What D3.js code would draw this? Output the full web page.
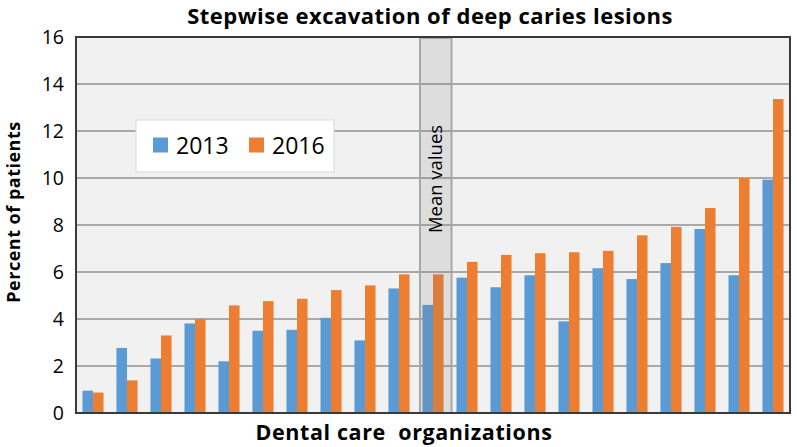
<!DOCTYPE html>
<html>
<head>
<meta charset="utf-8">
<script src="https://cdn.jsdelivr.net/npm/d3@7"></script>
<style>
  html, body { margin: 0; padding: 0; background: #ffffff; }
  svg { display: block; }
  text { font-family: "Open Sans", "Noto Sans", sans-serif; fill: #000; }
</style>
</head>
<body>
<svg id="chart" width="797" height="447"></svg>
<script>
const categories = ["O1","O2","O3","O4","O5","O6","O7","O8","O9","O10","Mean","O11","O12","O13","O14","O15","O16","O17","O18","O19","O20"];
const values2013 = [0.95, 2.77, 2.32, 3.81, 2.2, 3.5, 3.54, 4.05, 3.09, 5.3, 4.6, 5.76, 5.35, 5.86, 3.9, 6.16, 5.7, 6.38, 7.83, 5.86, 9.93];
const values2016 = [0.87, 1.39, 3.3, 4.0, 4.58, 4.76, 4.86, 5.23, 5.43, 5.9, 5.9, 6.43, 6.73, 6.8, 6.84, 6.9, 7.56, 7.92, 8.72, 10.0, 13.36];
const seriesNames = ["2013", "2016"];
const seriesColors = ["#5b9bd5", "#ed7d31"];
const yTicks = [0, 2, 4, 6, 8, 10, 12, 14, 16];
const meanCategory = "Mean";
const meanLabel = "Mean values";
const titleText = "Stepwise excavation of deep caries lesions";
const xTitle = "Dental care  organizations";
const yTitle = "Percent of patients";

const svg = d3.select("#chart");
const plot = { left: 76, right: 790, top: 37, bottom: 413 };

const x0 = d3.scaleBand().domain(categories).range([plot.left, plot.right]).paddingInner(0.38).paddingOuter(0.19);
const x1 = d3.scaleBand().domain(seriesNames).range([0, x0.bandwidth()]);
const y = d3.scaleLinear().domain([0, 16]).range([plot.bottom, plot.top]);

// plot background
svg.append("rect").attr("x", plot.left).attr("y", plot.top)
  .attr("width", plot.right - plot.left).attr("height", plot.bottom - plot.top)
  .attr("fill", "#f1f1f1");

// gridlines
svg.append("g").selectAll("line").data(yTicks.filter(d => d > 0 && d < 16)).join("line")
  .attr("x1", plot.left).attr("x2", plot.right)
  .attr("y1", d => y(d)).attr("y2", d => y(d))
  .attr("stroke", "#a9a9a9").attr("stroke-width", 2);

// bars
const rows = categories.map((c, i) => ({ c, vals: [values2013[i], values2016[i]] }));
const g = svg.append("g").selectAll("g").data(rows).join("g")
  .attr("transform", d => `translate(${x0(d.c)},0)`);
g.selectAll("rect").data(d => d.vals.map((v, k) => ({ v, k }))).join("rect")
  .attr("x", d => x1(seriesNames[d.k]))
  .attr("width", x1.bandwidth())
  .attr("y", d => y(d.v))
  .attr("height", d => y(0) - y(d.v))
  .attr("fill", d => seriesColors[d.k]);

// mean band overlay
const mx = x0(meanCategory);
svg.append("rect")
  .attr("x", mx - 2.5).attr("y", plot.top + 1)
  .attr("width", x0.bandwidth() + 10.5).attr("height", plot.bottom - plot.top - 1)
  .attr("fill", "#7f7f7f").attr("fill-opacity", 0.17)
  .attr("stroke", "#a8a8a8").attr("stroke-width", 2);
svg.append("text")
  .attr("transform", `translate(${mx - 2.5 + (x0.bandwidth() + 10.5) / 2 + 6},179) rotate(-90)`)
  .attr("text-anchor", "middle")
  .style("font-size", "18.5px")
  .text(meanLabel);

// plot border
svg.append("rect").attr("x", plot.left).attr("y", plot.top)
  .attr("width", plot.right - plot.left).attr("height", plot.bottom - plot.top)
  .attr("fill", "none").attr("stroke", "#3a3a3a").attr("stroke-width", 2);

// y axis
const yAxis = d3.axisLeft(y).tickValues(yTicks).tickSize(0).tickPadding(12);
const ya = svg.append("g").attr("transform", `translate(${plot.left},0)`).call(yAxis);
ya.select(".domain").remove();
ya.selectAll("text").style("font-family", "'Open Sans', sans-serif").style("font-size", "19.5px").attr("fill", "#000");

// titles
svg.append("text").attr("x", 430).attr("y", 24).attr("text-anchor", "middle")
  .style("font-size", "22px").style("letter-spacing", "0.5px").style("font-weight", "bold").text(titleText);
svg.append("text").attr("x", 404).attr("y", 440).attr("text-anchor", "middle")
  .style("font-size", "21.5px").style("letter-spacing", "0.6px").style("font-weight", "bold")
  .attr("xml:space", "preserve").text(xTitle);
svg.append("text").attr("transform", "translate(20,212) rotate(-90)").attr("text-anchor", "middle")
  .style("font-size", "18px").style("letter-spacing", "0.5px").style("font-weight", "bold").text(yTitle);

// legend
const lg = svg.append("g");
lg.append("rect").attr("x", 136).attr("y", 120).attr("width", 198).attr("height", 52)
  .attr("fill", "#ffffff").attr("stroke", "#d9d9d9").attr("stroke-width", 1);
const legendX = [153, 249];
seriesNames.forEach((s, i) => {
  lg.append("rect").attr("x", legendX[i]).attr("y", 137.5).attr("width", 15).attr("height", 15).attr("fill", seriesColors[i]);
  lg.append("text").attr("x", legendX[i] + 23).attr("y", 154).style("font-size", "23px").text(s);
});
</script>
</body>
</html>
